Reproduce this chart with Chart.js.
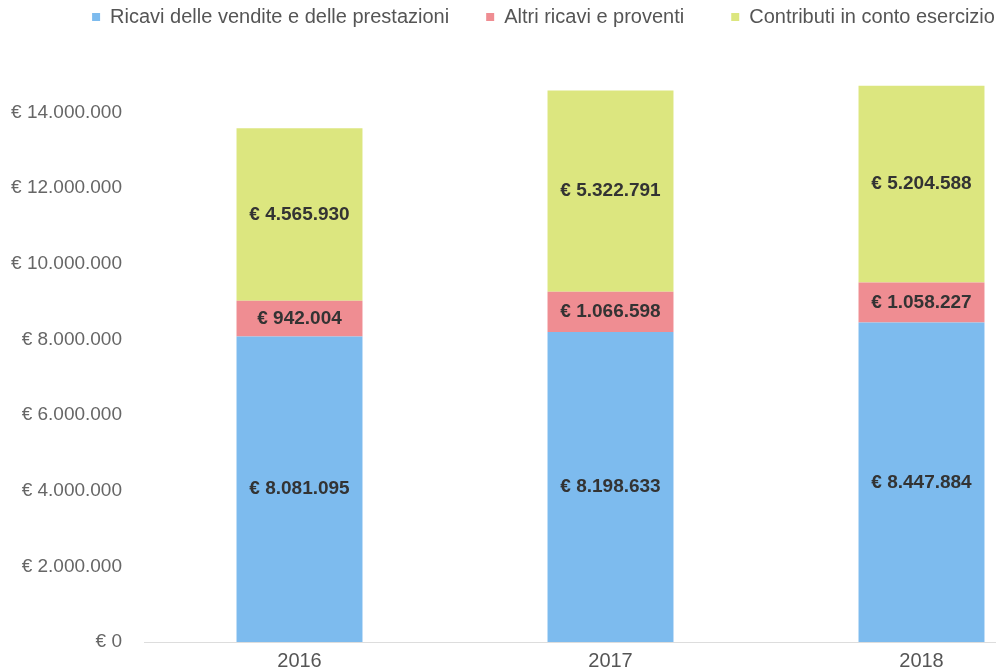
<!DOCTYPE html>
<html>
<head>
<meta charset="utf-8">
<script src="https://cdn.jsdelivr.net/npm/chart.js@4.4.0/dist/chart.umd.min.js"></script>
<style>
  html, body { margin: 0; padding: 0; background: #fff; overflow: hidden; }
  #wrap { width: 996px; height: 670px; overflow: hidden; position: relative; }
  #c { position: absolute; left: 0; top: 0; display: block; }
</style>
</head>
<body>
<div id="wrap"><canvas id="c" width="1140" height="670"></canvas></div>
<script>
// Anni di bilancio
const years = ['2016', '2017', '2018'];

// Componenti del valore della produzione (euro)
const ricaviVendite = [8081095, 8198633, 8447884];
const altriRicavi = [942004, 1066598, 1058227];
const contributiEsercizio = [4565930, 5322791, 5204588];

const seriesNames = [
  'Ricavi delle vendite e delle prestazioni',
  'Altri ricavi e proventi',
  'Contributi in conto esercizio'
];
const seriesColors = ['#7dbbee', '#ef8d92', '#dce67f'];

// Tacche dell'asse y (ogni 2 milioni)
const yTicks = [0, 2000000, 4000000, 6000000, 8000000, 10000000, 12000000, 14000000];

function euro(v) {
  const s = Math.round(v).toString().replace(/\B(?=(\d{3})+(?!\d))/g, '.');
  return '€ ' + s;
}

// Etichette dei valori al centro di ogni segmento
const segmentLabels = {
  id: 'segmentLabels',
  afterDatasetsDraw(chart) {
    const ctx = chart.ctx;
    ctx.save();
    ctx.font = 'bold 19px "Liberation Sans", Arial, sans-serif';
    ctx.fillStyle = '#333';
    ctx.textAlign = 'center';
    ctx.textBaseline = 'middle';
    chart.data.datasets.forEach((ds, i) => {
      const meta = chart.getDatasetMeta(i);
      meta.data.forEach((bar, j) => {
        const p = bar.getProps(['x', 'y', 'base'], true);
        ctx.fillText(euro(ds.data[j]), p.x, (p.y + p.base) / 2);
      });
    });
    ctx.restore();
  }
};

Chart.defaults.font.family = '"Liberation Sans", Arial, sans-serif';

new Chart(document.getElementById('c'), {
  type: 'bar',
  data: {
    labels: years,
    datasets: [
      { label: seriesNames[0], data: ricaviVendite, backgroundColor: seriesColors[0] },
      { label: seriesNames[1], data: altriRicavi, backgroundColor: seriesColors[1] },
      { label: seriesNames[2], data: contributiEsercizio, backgroundColor: seriesColors[2] }
    ]
  },
  options: {
    responsive: false,
    animation: false,
    datasets: { bar: { categoryPercentage: 1, barPercentage: 0.405 } },
    layout: { padding: { left: 10, right: 63, top: 0, bottom: 0 } },
    plugins: {
      legend: {
        position: 'top',
        labels: {
          boxWidth: 8,
          boxHeight: 8,
          padding: 7,
          color: '#555',
          font: { size: 20 },
          generateLabels(chart) {
            const items = Chart.defaults.plugins.legend.labels.generateLabels(chart);
            // extra room between legend entries
            items.forEach((it, i) => {
              if (i === 0) it.text += '\u2003\u2002';
              else if (i < items.length - 1) it.text += '\u2003\u2003';
            });
            return items;
          }
        }
      },
      tooltip: { enabled: false }
    },
    scales: {
      x: {
        stacked: true,
        grid: { display: false, drawTicks: false },
        border: { display: true, color: '#ddd', width: 1 },
        ticks: { color: '#555', font: { size: 20 }, padding: 7 },
        afterFit(scale) { scale.height = 28; }
      },
      y: {
        stacked: true,
        min: 0,
        max: 16000000,
        grid: { display: false, drawTicks: false },
        border: { display: false },
        afterBuildTicks(scale) {
          scale.ticks = yTicks.map(v => ({ value: v }));
        },
        afterFit(scale) {
          scale.width = 134;
          scale.paddingTop = 0;
          scale.paddingBottom = 0;
        },
        ticks: {
          color: '#666',
          font: { size: 19 },
          padding: 22,
          callback: v => euro(v)
        }
      }
    }
  },
  plugins: [segmentLabels]
});
</script>
</body>
</html>
